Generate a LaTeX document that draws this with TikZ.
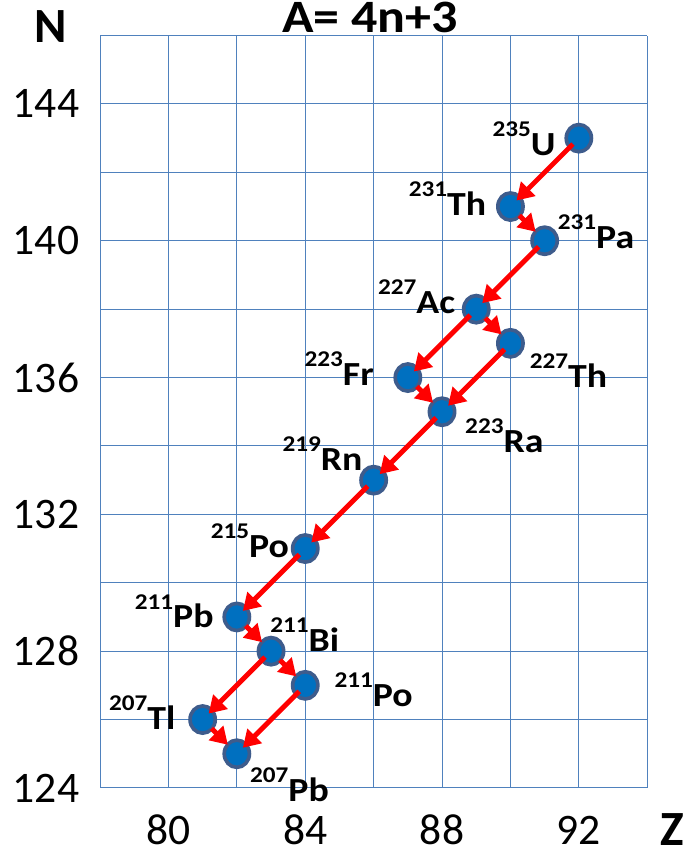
\documentclass[tikz,border=0pt]{standalone}
\usepackage{fontspec}
\setmainfont{Carlito}
\newfontfamily\lblfont{Carlito}[FakeStretch=1.12]
\usetikzlibrary{shapes.geometric, arrows.meta, calc}
\definecolor{gridblue}{RGB}{79,129,189}
\definecolor{nucfill}{RGB}{0,112,192}
\definecolor{nucedge}{RGB}{62,92,140}
\newcommand{\nuc}[2]{\raisebox{0.56em}{\fontsize{16}{16}\selectfont #1}#2}

\begin{document}
\begin{tikzpicture}[x=0.855cm, y=0.855cm,
  gridline/.style={draw=gridblue, line width=0.7pt},
  nucl/.style={ellipse, draw=nucedge, line width=2.6pt, fill=nucfill, minimum width=0.63cm, minimum height=0.68cm, inner sep=0pt},
  iso/.style={font=\lblfont\bfseries\fontsize{24}{24}\selectfont, inner sep=0pt},
  axnum/.style={font=\fontsize{31}{31}\selectfont, inner sep=0pt},
  axname/.style={font=\bfseries\fontsize{35}{35}\selectfont, inner sep=0pt},
  adecay/.style={draw=red, line width=3.5pt, -{Triangle[length=12pt,width=14pt]}, shorten <=6pt, shorten >=6pt},
  bdecay/.style={adecay, shorten <=9pt, shorten >=9pt}
]
  \useasboundingbox (75.076,122.012) rectangle (95.339,147.041);

  % grid
  \foreach \z in {78,80,...,94} \draw[gridline] (\z,124) -- (\z,146);
  \foreach \n in {124,126,...,146} \draw[gridline] (78,\n) -- (94,\n);

  % axes
  \foreach \z in {80,84,88,92} \node[axnum] (z\z) at (\z,122.77) {\z};
  \foreach \n in {124,128,...,144} \node[axnum] (n\n) at (76.42,\n) {\n};
  \node[axname] (nlabel) at (76.567,146.25) {N};
  \node[axname] (zlabel) at (94.74,122.78) {Z};
  \node[font=\lblfont\bfseries\fontsize{33}{33}\selectfont, anchor=base, inner sep=0pt] (title) at (85.895,146.08) {A= 4n+3};

  % nuclides
  \node[nucl] (u235) at (92,143) {};
  \node[nucl] (th231) at (90,141) {};
  \node[nucl] (pa231) at (91,140) {};
  \node[nucl] (ac227) at (89,138) {};
  \node[nucl] (th227) at (90,137) {};
  \node[nucl] (fr223) at (87,136) {};
  \node[nucl] (ra223) at (88,135) {};
  \node[nucl] (rn219) at (86,133) {};
  \node[nucl] (po215) at (84,131) {};
  \node[nucl] (pb211) at (82,129) {};
  \node[nucl] (bi211) at (83,128) {};
  \node[nucl] (po211) at (84,127) {};
  \node[nucl] (tl207) at (81,126) {};
  \node[nucl] (pb207) at (82,125) {};

  \node[iso, anchor=base east] (u235-l) at ($(u235)+(-0.67,-0.5)$) {\nuc{235}{U}};
  \node[iso, anchor=base east] (th231-l) at ($(th231)+(-0.7,-0.26)$) {\nuc{231}{Th}};
  \node[iso, anchor=base west] (pa231-l) at ($(pa231)+(0.38,-0.23)$) {\nuc{231}{Pa}};
  \node[iso, anchor=base east] (ac227-l) at ($(ac227)+(-0.61,-0.12)$) {\nuc{227}{Ac}};
  \node[iso, anchor=base west] (th227-l) at ($(th227)+(0.56,-1.29)$) {\nuc{227}{Th}};
  \node[iso, anchor=base east] (fr223-l) at ($(fr223)+(-0.99,-0.23)$) {\nuc{223}{Fr}};
  \node[iso, anchor=base west] (ra223-l) at ($(ra223)+(0.67,-1.2)$) {\nuc{223}{Ra}};
  \node[iso, anchor=base east] (rn219-l) at ($(rn219)+(-0.32,0.29)$) {\nuc{219}{Rn}};
  \node[iso, anchor=base east] (po215-l) at ($(po215)+(-0.47,-0.26)$) {\nuc{215}{Po}};
  \node[iso, anchor=base east] (pb211-l) at ($(pb211)+(-0.67,-0.32)$) {\nuc{211}{Pb}};
  \node[iso, anchor=base west] (bi211-l) at ($(bi211)+(-0.03,0)$) {\nuc{211}{Bi}};
  \node[iso, anchor=base west] (po211-l) at ($(po211)+(0.85,-0.61)$) {\nuc{211}{Po}};
  \node[iso, anchor=base east] (tl207-l) at ($(tl207)+(-0.79,-0.29)$) {\nuc{207}{Tl}};
  \node[iso, anchor=base west] (pb207-l) at ($(pb207)+(0.38,-1.4)$) {\nuc{207}{Pb}};

  % decays
  \draw[adecay] (u235.center) -- (th231.center);
  \draw[bdecay] (th231.center) -- (pa231.center);
  \draw[adecay] (pa231.center) -- (ac227.center);
  \draw[adecay] (ac227.center) -- (fr223.center);
  \draw[bdecay] (ac227.center) -- (th227.center);
  \draw[bdecay] (fr223.center) -- (ra223.center);
  \draw[adecay] (th227.center) -- (ra223.center);
  \draw[adecay] (ra223.center) -- (rn219.center);
  \draw[adecay] (rn219.center) -- (po215.center);
  \draw[adecay] (po215.center) -- (pb211.center);
  \draw[bdecay] (pb211.center) -- (bi211.center);
  \draw[adecay] (bi211.center) -- (tl207.center);
  \draw[bdecay] (bi211.center) -- (po211.center);
  \draw[bdecay] (tl207.center) -- (pb207.center);
  \draw[adecay] (po211.center) -- (pb207.center);
\end{tikzpicture}
\end{document}
